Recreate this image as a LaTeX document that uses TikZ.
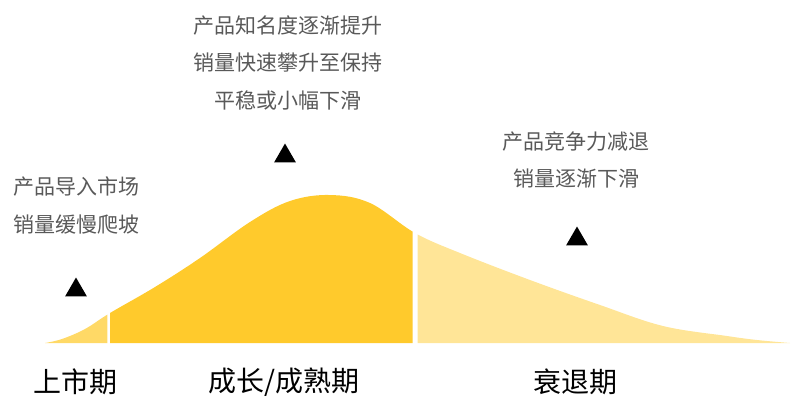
\documentclass[tikz,border=0pt]{standalone}
\usepackage{fontspec}
\newfontfamily\cjk{Noto Sans CJK SC}
\usetikzlibrary{shapes.geometric}
\definecolor{introcol}{HTML}{FFD966}
\definecolor{growcol}{HTML}{FFCA2C}
\definecolor{declcol}{HTML}{FFE597}
\definecolor{txtgray}{HTML}{595959}
\tikzset{
  desc/.style={align=center, text=txtgray, inner sep=0pt, font=\cjk\fontsize{21}{37.5}\selectfont},
  phase/.style={text=black, inner sep=0pt, font=\cjk\fontsize{28}{33}\selectfont},
  marker/.style={regular polygon, regular polygon sides=3, fill=black, minimum size=25, inner sep=0pt, draw=none}
}
\begin{document}
\begin{tikzpicture}[x=1pt,y=-1pt]
\useasboundingbox (0,0) rectangle (791,397);
\def\curvepath{plot[smooth,tension=0.6] coordinates {(45,343) (62,339) (85,329) (110,313) (155,287) (200,258) (250,222) (290,201) (330,195) (370,203) (415,233) (460,253) (530,280) (600,305) (663,326) (727,336) (757,340) (790,343)} -- (790,343) -- (45,343) -- cycle}
\begin{scope}
  \clip (0,0) rectangle (107.3,397);
  \fill[introcol] \curvepath;
\end{scope}
\begin{scope}
  \clip (110,0) rectangle (412.7,397);
  \fill[growcol] \curvepath;
\end{scope}
\begin{scope}
  \clip (417.7,0) rectangle (791,397);
  \fill[declcol] \curvepath;
\end{scope}
\node[desc] (d1) at (76,205.5) {产品导入市场\\销量缓慢爬坡};
\node[desc] (d2) at (288,62.5) {产品知名度逐渐提升\\销量快速攀升至保持\\平稳或小幅下滑};
\node[desc] (d3) at (576,160) {产品竞争力减退\\销量逐渐下滑};
\node[marker] (m1) at (76,290) {};
\node[marker] (m2) at (285,156) {};
\node[marker] (m3) at (577,239) {};
\node[phase] (p1) at (75,382) {上市期};
\node[phase] (p2) at (284,382) {成长/成熟期};
\node[phase] (p3) at (575,382) {衰退期};
\end{tikzpicture}
\end{document}
